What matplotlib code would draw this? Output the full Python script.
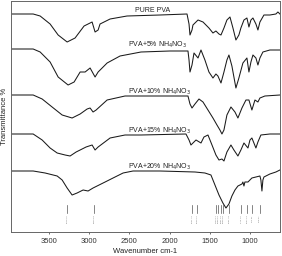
import numpy as np
import matplotlib
matplotlib.use("Agg")
import matplotlib.pyplot as plt

plt.rcParams["font.family"] = ["Liberation Sans", "DejaVu Sans"]

# FTIR spectra (wavenumber cm-1, stacked transmittance a.u.)
wn_pure = [3973, 3699, 3612, 3488, 3388, 3276, 3177, 3065, 2965, 2928, 2890, 2866,
           2741, 2530, 2119, 1783, 1758, 1746, 1721, 1709, 1646, 1584, 1510, 1460,
           1423, 1385, 1360, 1323, 1286, 1248, 1211, 1174, 1137, 1112, 1074, 1037,
           1012, 987, 962, 925, 900, 875, 825, 751, 676, 651, 626]
t_pure = [218, 218, 216, 208, 197, 190, 194, 206, 210, 200, 202, 208,
          213, 216, 217, 218, 208, 197, 202, 207, 212, 210, 204, 199,
          201, 198, 197, 204, 212, 215, 204, 192, 197, 204, 212, 214,
          205, 212, 214, 208, 202, 210, 217, 217, 218, 220, 218]

wn_5 = [3973, 3699, 3612, 3488, 3388, 3264, 3189, 3114, 3052, 2990, 2928, 2890,
        2778, 2617, 2356, 1995, 1771, 1758, 1746, 1721, 1696, 1646, 1609, 1560,
        1510, 1460, 1423, 1398, 1360, 1323, 1286, 1261, 1224, 1174, 1137, 1087,
        1037, 1012, 987, 962, 925, 900, 875, 838, 751, 626]
t_5 = [183, 183, 180, 170, 155, 147, 150, 160, 160, 164, 155, 160,
       169, 176, 180, 181, 181, 172, 160, 167, 179, 174, 182, 172,
       160, 154, 158, 156, 149, 160, 172, 177, 166, 144, 154, 169,
       174, 160, 170, 177, 174, 167, 174, 180, 182, 182]

wn_10 = [3973, 3699, 3587, 3463, 3338, 3214, 3114, 3027, 2990, 2953, 2915, 2778,
         2555, 2356, 1771, 1746, 1721, 1684, 1634, 1584, 1522, 1460, 1410, 1373,
         1348, 1323, 1286, 1236, 1186, 1149, 1099, 1049, 1012, 975, 937, 900,
         875, 813, 626]
t_10 = [137, 137, 133, 125, 117, 114, 118, 123, 124, 120, 122, 132,
        136, 136, 136, 128, 124, 128, 133, 130, 122, 114, 107, 102,
        98, 102, 117, 125, 120, 114, 124, 132, 132, 122, 132, 130,
        134, 136, 137]

wn_15 = [3973, 3699, 3587, 3488, 3400, 3301, 3239, 3164, 3114, 3040, 2965, 2928,
         2890, 2741, 2555, 2356, 1796, 1758, 1734, 1709, 1671, 1609, 1572, 1522,
         1472, 1423, 1385, 1348, 1323, 1286, 1236, 1199, 1149, 1112, 1074, 1024,
         999, 975, 925, 900, 863, 751, 626]
t_15 = [98, 98, 92, 84, 79, 77, 76, 80, 82, 85, 87, 82,
        85, 94, 97, 97, 98, 92, 87, 89, 92, 89, 95, 97,
        87, 77, 72, 73, 71, 80, 87, 82, 76, 82, 89, 84,
        92, 94, 84, 90, 97, 98, 98]

wn_20 = [3973, 3699, 3550, 3400, 3338, 3276, 3214, 3152, 3077, 3015, 2953, 2903,
         2803, 2704, 2579, 2455, 2119, 1684, 1560, 1485, 1435, 1385, 1336, 1298,
         1261, 1224, 1186, 1149, 1099, 1087, 1074, 1062, 1024, 975, 925, 875,
         863, 850, 838, 825, 751, 676, 626]
t_20 = [61, 61, 59, 56, 52, 44, 37, 39, 42, 41, 44, 46,
        50, 54, 59, 61, 61, 60, 59, 57, 47, 37, 29, 24,
        28, 36, 42, 46, 48, 50, 46, 50, 50, 54, 55, 56,
        52, 41, 52, 55, 58, 60, 62]

spectra = [
    ("PURE PVA", wn_pure, t_pure),
    ("PVA+5% NH$_4$NO$_3$", wn_5, t_5),
    ("PVA+10% NH$_4$NO$_3$", wn_10, t_10),
    ("PVA+15% NH$_4$NO$_3$", wn_15, t_15),
    ("PVA+20% NH$_4$NO$_3$", wn_20, t_20),
]

# peak markers along the bottom
peak_wn = [3276, 2940, 1721, 1659, 1423, 1398, 1361, 1336, 1261, 1112, 1037, 975, 876]
peak_txt = ["3276.35", "2940.18", "1721.42", "1659.07", "1423.51", "1398.66",
            "1361.20", "1336.94", "1261.48", "1112.73", "1037.29", "975.61", "876.07"]

xticks = [3500, 3000, 2500, 2000, 1500, 1000]

fig = plt.figure(figsize=(2.82, 2.56), dpi=100)
ax = fig.add_axes([11 / 282, 24 / 256, 269 / 282, 231 / 256])

for name, wn, t in spectra:
    ax.plot(wn, t, color="#1a1a1a", lw=0.75)

# label positions (x in cm-1, y in a.u.)
label_pos = [(2430, 222), (2517, 187), (2517, 140), (2517, 101), (2517, 65)]
for (name, _, _), (lx, ly) in zip(spectra, label_pos):
    ax.text(lx, ly, name, fontsize=5, ha="left", va="center", color="#222222")

for w, s in zip(peak_wn, peak_txt):
    ax.plot([w, w], [19, 27], color="#555555", lw=0.5)
    ax.text(w, 18, s, fontsize=1.7, rotation=90, ha="center", va="top", color="#777777")

ax.set_xlim(3975, 625)
ax.set_ylim(0, 231)
ax.set_yticks([])
ax.set_xticks(xticks)
ax.tick_params(axis="x", labelsize=5.5, length=1.5, width=0.5, pad=2.5, colors="#333333")
for sp in ax.spines.values():
    sp.set_color("#666666")
    sp.set_linewidth(0.7)

ax.set_xlabel("Wavenumber cm-1", fontsize=5.5, labelpad=2.5, color="#222222")
ax.set_ylabel("Transmittance %", fontsize=5.5, labelpad=2, color="#222222")

fig.savefig("out.png", dpi=100)
